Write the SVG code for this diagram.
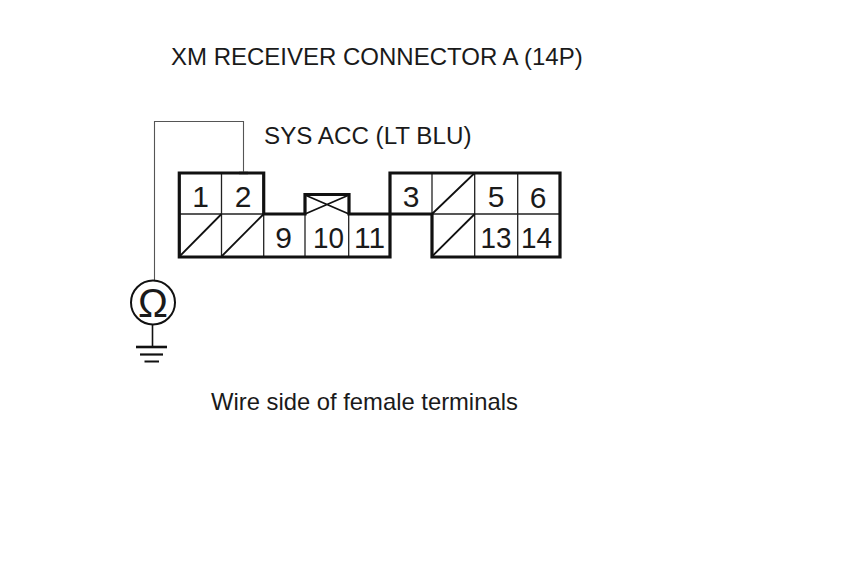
<svg xmlns="http://www.w3.org/2000/svg" width="860" height="580" viewBox="0 0 860 580">
<style>
text{font-family:"Liberation Sans",Arial,sans-serif;fill:#1a1a1a}
.t{font-size:24px}
.n{font-size:30px;text-anchor:middle}
.b{fill:none;stroke:#111;stroke-width:3.2;stroke-linejoin:miter}
.c{fill:none;stroke:#222;stroke-width:1.3}
.d{fill:none;stroke:#111;stroke-width:1.8}
.w{fill:none;stroke:#555;stroke-width:1.1}
.g{fill:none;stroke:#111}
</style>
<rect width="860" height="580" fill="#fff"/>
<g id="connectors">
<path class="w" d="M154.5 280V121.5H243.5V172"/>
<path d="M239 173h9" stroke="#999" stroke-width="3" fill="none"/>
</g>
<g id="connector-a">
<path class="c" d="M221.5 173V257M179 214H264M263.7 214V257M305 214V257M348.7 214V257M432 173V214M432 214H560M474.7 173V257M517.7 173V257"/>
<path class="d" d="M179.5 256.5L221.5 214M221.5 256.5L263.7 214M432 214L474.7 173M432 256.5L474.7 214"/>
<path class="d" d="M305 195L349 214M349 195L305 214"/>
<path class="b" d="M179.3 173H263.7V214H305V194.5H349V214H390V173H560V257H432V214H390V257H179.3Z"/>
<text class="n" x="200.5" y="207">1</text>
<text class="n" x="243" y="207">2</text>
<text class="n" x="411" y="207">3</text>
<text class="n" x="496" y="207">5</text>
<text class="n" x="538" y="208">6</text>
<text class="n" x="283.5" y="248">9</text>
<text class="n" x="328.5" y="248" textLength="31" lengthAdjust="spacingAndGlyphs">10</text>
<text class="n" x="369.5" y="248" textLength="31" lengthAdjust="spacingAndGlyphs">11</text>
<text class="n" x="496" y="248" textLength="31" lengthAdjust="spacingAndGlyphs">13</text>
<text class="n" x="536.5" y="248" textLength="31" lengthAdjust="spacingAndGlyphs">14</text>
</g>
<g id="ohmmeter">
<circle cx="153" cy="302.5" r="22" fill="none" stroke="#111" stroke-width="2"/>
<text x="153" y="316.5" text-anchor="middle" style="font-size:40px">Ω</text>
<path class="g" stroke-width="1.6" d="M152.5 324.5V347"/>
<path class="g" stroke-width="2.6" d="M136 347H167"/>
<path class="g" stroke-width="2.2" d="M140 354.5H163"/>
<path class="g" stroke-width="2" d="M144.5 361.5H159"/>
</g>
<g id="labels">
<text class="t" x="171" y="65">XM RECEIVER CONNECTOR A (14P)</text>
<text class="t" x="264" y="144" style="font-size:24.2px">SYS ACC (LT BLU)</text>
<text class="t" x="211" y="410" style="font-size:23.8px">Wire side of female terminals</text>
</g>
</svg>
